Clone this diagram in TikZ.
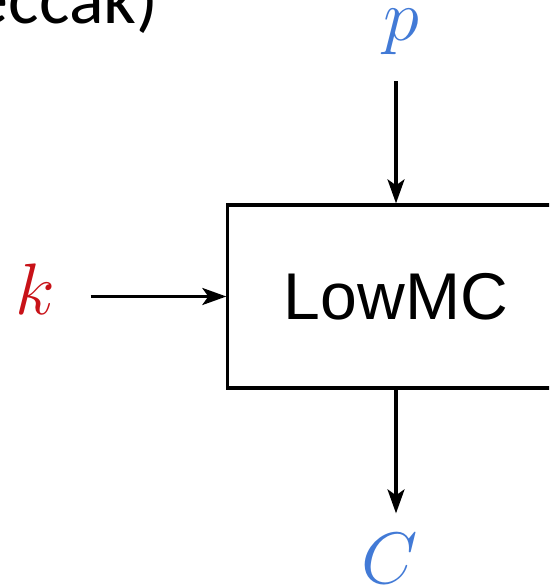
\documentclass[tikz,border=0pt]{standalone}
\usepackage{fontspec}
\usepackage{xcolor}
\usetikzlibrary{arrows.meta,positioning}
\setsansfont{Liberation Sans}
\newfontfamily\titlefont{Carlito}
\definecolor{inblue}{RGB}{66,122,214}
\definecolor{keyred}{RGB}{200,18,24}

\begin{document}
\begin{tikzpicture}[x=0.01cm, y=-0.01cm,
  flow/.style={line width=0.9pt, -{Stealth[length=0.24cm, width=0.17cm, inset=0.06cm]}},
  var/.style={inner sep=0pt, font=\fontsize{19.5}{22}\selectfont}]
\useasboundingbox (0,0) rectangle (549,586);
\clip (0,0) rectangle (549,586);

% Title fragment
\node[anchor=base east, inner sep=0pt, font=\titlefont\fontsize{20.5}{24}\selectfont] (title) at (159,24) {eccak)};

% Block
\node[draw, line width=0.9pt, minimum width=3.36cm, minimum height=1.83cm,
  font=\sffamily\fontsize{18.8}{22}\selectfont] (lowmc) at (396,296.5) {LowMC};

% Inputs and output
\node[var, text=inblue] (p) at (401,32) {$p$};
\node[var, text=keyred] (k) at (35,289) {$k$};
\node[var, text=inblue] (c) at (390,559) {$C$};

% Arrows
\draw[flow, shorten <=0.26cm] (lowmc.north |- p.south) -- (lowmc.north);
\draw[flow, shorten <=0.35cm] (k.east |- lowmc.west) -- (lowmc.west);
\draw[flow, shorten >=0.2cm] (lowmc.south) -- (lowmc.south |- c.north);
\end{tikzpicture}
\end{document}
